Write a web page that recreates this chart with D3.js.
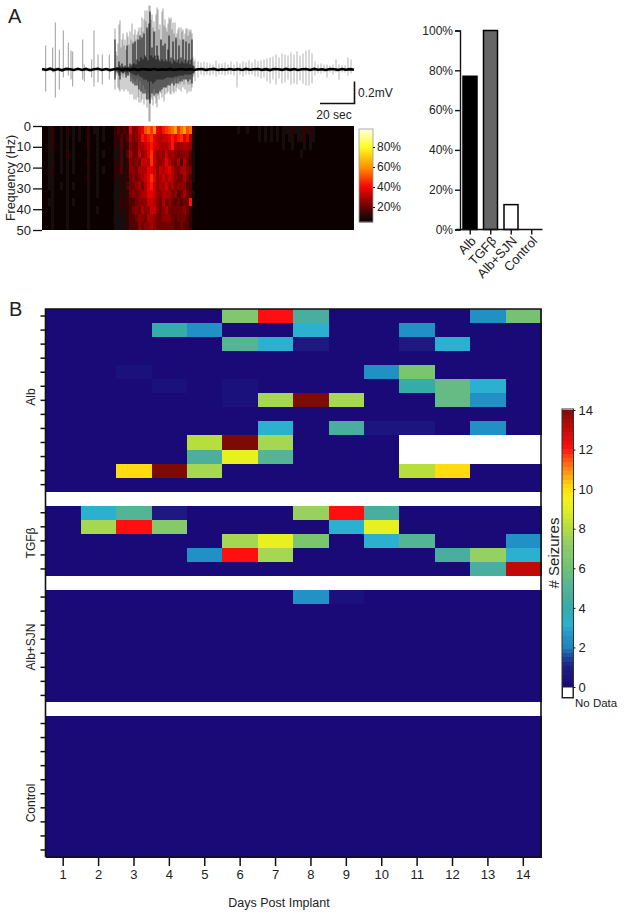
<!DOCTYPE html>
<html><head><meta charset="utf-8">
<script src="https://cdn.jsdelivr.net/npm/d3@7/dist/d3.min.js"></script>
<style>
html,body{margin:0;padding:0;background:#fff}
svg{display:block}
text{font-family:"Liberation Sans",Arial,sans-serif;fill:#222}
.axis path,.axis line{stroke:#111}
</style></head><body>
<svg id="c" width="624" height="916"></svg>
<script>
// ---------- Panel A: trace (amplitudes in 0.01 mV, positions in seconds*1.64) ----------
const sparsePos  =[45.7,52.7,55.3,59.3,63.3,68.3,71,72.7,82.7,84.3,91.7,94,98,102.3,109.3];
const sparseUp   =[24,22,47,20,39,27,19,18,30,5,10,39,15,15,15];
const sparseDown =[22,3,28,20,8,6,10,17,10,12,8,17,13,15,10];
const burstStart=115;
const burstUp=[41,18,14,26,45,49,22,30,36,24,30,20,37,33,25,38,30,46,28,35,40,30,35,38,42,30,42,52,38,50,59,48,59,40,64,64,50,55,42,48,38,55,62,60,40,45,30,58,61,44,50,42,38,46,52,50,52,40,47,36,47,30,36,40,42,30,42,38,40,30,36,41,41,34,40,38,40,36,12,8];
const burstDown=[20,6,4,18,20,22,6,20,8,22,5,20,6,22,6,25,8,25,10,30,12,30,10,28,33,12,33,30,16,35,20,30,38,24,52,52,28,30,36,20,28,34,38,26,30,20,24,28,18,32,25,18,24,22,15,24,25,12,22,24,10,22,18,9,20,15,22,10,18,15,20,10,24,15,22,15,22,18,8,6];
const coreUp=[30,2,1,2,8,4,2,6,3,2,4,2,24,3,2,6,3,5,26,6,28,5,10,30,8,34,12,32,10,36,14,12,42,9,46,58,14,22,12,38,14,10,24,14,10,8,30,10,24,8,26,10,8,20,34,8,12,6,28,10,8,32,7,10,24,6,12,8,30,6,10,28,6,9,26,5,10,30,4,3];
const coreDown=[10,2,1,3,6,10,2,3,4,3,2,8,3,6,2,3,12,4,14,5,16,6,16,5,20,7,22,8,24,10,24,10,30,12,30,34,12,24,14,26,12,24,10,24,10,22,10,20,10,18,9,18,8,16,8,16,8,14,8,16,7,14,7,14,6,12,6,12,6,10,5,10,5,12,5,10,5,14,4,3];
const rightStart=195;
const rightUp=[10,8,7,8,7,6,5,9,6,6,7,5,8,5,8,6,8,7,9,7,10,8,9,10,11,12,13,15,12,16,15,14,17,15,18,14,16,19,20,16,8,5,6,5,5,4,5,10,5,4,4,12,10];
const rightDown=[12,8,5,6,5,6,5,7,5,5,6,5,5,6,18,5,7,5,5,5,7,7,9,8,12,14,10,15,9,14,13,10,15,14,15,11,14,16,16,14,6,4,4,3,8,3,5,3,10,3,3,6,4];
const baseline=[0.5,-0.5,0.8,-0.6,0.4,-0.8,0.6,0.2,-0.5,0.7,-0.4,0.6,-0.7,0.3,0.8,-0.4,0.5,-0.6,0.2,0.7,-0.5,0.4,-0.3,0.6,-0.6,0.5,0.1,-0.4,0.7,-0.5,0.3,-0.2,0.6,-0.4,0.2,0.5,-0.3,0.4,-0.5,0.3,0.5,-0.4,0.2,0.6,-0.5,0.3,-0.3,0.5,-0.2,0.4,-0.5,0.6,-0.3,0.2,0.5,-0.4,0.3,-0.6,0.5,0.2,-0.4,0.6,-0.3,0.4,-0.5,0.2,0.5,-0.4,0.6,-0.2,0.3,-0.5,0.4,0.2,-0.4,0.5,-0.3,0.4,-0.2];

// ---------- Panel A: spectrogram, hex levels, one string per frequency band ----------
const specLeft=["112311213120210312212100","112311212120210311212100","012301212120110311211100","012201213120110211212100","012201212120110311211000","012301212120110211212100","012201112110110311211000","012201212120110211211100","011201112110010211211000","012201112120110211111000","011201112110010211211000","011201112110010211111000","011201112110010211111000"];
const specBurst=["3434395689cdbe98abcdfbdfcd3","334347567a9ab987889a9ab9a72","324336557789a987778a7677762","224247558679b86768676566642","324236565887b86679765747542","334236657779986878976577652","323235656789b96787876557542","223245567579a86778675666441","223235656779986677756457542","2233344566688765756545455a1","223234565766886567555556531","222234456657765566654555431","222234446566765555554454431"];
const specRight=["10101111110111211211121212121222322232321101101011111","10101011010111111111121212121212212231221001001010110","00101001000101101101111111111211211121210001000010010","00100001000100101001011010111111111211100001000010010","00100000000100100101010010110111101111110000000010010","00000001000000100100010010101101101110110000000010000","00000000000100000100010010100101101010110000000000010","00000001000000100100000010100101101010110000000000000","00000000000100000100010010100101001010010000000000000","00000000000000100000010000100101001010010000000000000","00000000000000000100000010000101001010010000000000000","00000000000000000000000010000100001010000000000000000","00000000000000000000000000000100001000010000000000000"];
const specFreqTicks=[0,10,20,30,40,50];
const hotStops=[0,8,20,40,60,80,100];
const hotColors=["#0d0505","#140707","#6a0303","#f60606","#ff9300","#ffff22","#ffffff"];
const hotTicks=[20,40,60,80];

// ---------- Panel A: bars ----------
const barCats=["Alb","TGFβ","Alb+SJN","Control"];
const barVals=[77,100,12.5,0];
const barFills=["#000000","#666666","#ffffff","#ffffff"];
const barTicks=[0,20,40,60,80,100];

// ---------- Panel B: seizures per day ----------
const days=[1,2,3,4,5,6,7,8,9,10,11,12,13,14];
const N=null;
const albRows=[
[0,0,0,0,0,6.5,12,4.5,0,0,0,0,2.4,6],
[0,0,0,4,2.4,0,0,3,0,0,2.4,0,0,0],
[0,0,0,0,0,5,3,0.7,0,0,0.7,3,0,0],
[0,0,0,0,0,0,0,0,0,0,0,0,0,0],
[0,0,0.3,0,0,0,0,0,0,2.4,6.3,0,0,0],
[0,0,0,0.3,0,0.3,0,0,0,0,4,5.5,3,0],
[0,0,0,0,0,0.3,7.6,14,7.6,0,0,5.5,2.4,0],
[0,0,0,0,0,0,0,0,0,0,0,0,0,0],
[0,0,0,0,0,0,3,0,4.5,0.5,0.5,0,2.4,0],
[0,0,0,0,8,14,7.6,0,0,0,N,N,N,N],
[0,0,0,0,4.6,9,5,0,0,0,N,N,N,N],
[0,0,10,14,7.6,0,0,0,0,0,8,10,0,0],
[0,0,0,0,0,0,0,0,0,0,0,0,0,0]];
const gapRow=[N,N,N,N,N,N,N,N,N,N,N,N,N,N];
const tgfRows=[
[0,3,5,0.7,0,0,0,7.3,12,4.5,0,0,0,0],
[0,7.6,12,6.7,0,0,0,0,3,9,0,0,0,0],
[0,0,0,0,0,7.6,9,6.3,0,3,5,0,0,2.4],
[0,0,0,0,2.4,12,7.6,0,0,0,0,4.5,7.2,3],
[0,0,0,0,0,0,0,0,0,0,0,0,4.5,13]];
const sjnRows=[
[0,0,0,0,0,0,0,2.5,0.3,0,0,0,0,0],
[0,0,0,0,0,0,0,0,0,0,0,0,0,0],
[0,0,0,0,0,0,0,0,0,0,0,0,0,0],
[0,0,0,0,0,0,0,0,0,0,0,0,0,0],
[0,0,0,0,0,0,0,0,0,0,0,0,0,0],
[0,0,0,0,0,0,0,0,0,0,0,0,0,0],
[0,0,0,0,0,0,0,0,0,0,0,0,0,0],
[0,0,0,0,0,0,0,0,0,0,0,0,0,0]];
const controlRows=[
[0,0,0,0,0,0,0,0,0,0,0,0,0,0],[0,0,0,0,0,0,0,0,0,0,0,0,0,0],
[0,0,0,0,0,0,0,0,0,0,0,0,0,0],[0,0,0,0,0,0,0,0,0,0,0,0,0,0],
[0,0,0,0,0,0,0,0,0,0,0,0,0,0],[0,0,0,0,0,0,0,0,0,0,0,0,0,0],
[0,0,0,0,0,0,0,0,0,0,0,0,0,0],[0,0,0,0,0,0,0,0,0,0,0,0,0,0],
[0,0,0,0,0,0,0,0,0,0,0,0,0,0],[0,0,0,0,0,0,0,0,0,0,0,0,0,0]];
const groupNames=["Alb","TGFβ","Alb+SJN","Control"];
const seizureStops=[0,1,1.5,2,2.5,3,4,4.5,5,6,7,7.5,8,9,9.5,10,11,12,13,14];
const seizureColors=["#190a78","#1f2085","#1f4fa0","#2088c0","#2092c6","#2bb0d0","#35aca8","#4aae9e","#54b595","#74c272","#8ccc68","#a0d558","#b8de3c","#e8f020","#f6f018","#ffdc10","#ff8010","#ff0f0f","#c00a0a","#7d0a05"];
const seizureTicks=[0,2,4,6,8,10,12,14];

// ---------- Drawing ----------
const svg=d3.select("#c");
const defs=svg.append("defs");
defs.append("filter").attr("id","soft").attr("x","-5%").attr("y","-5%").attr("width","110%").attr("height","110%")
  .append("feGaussianBlur").attr("stdDeviation",0.6);
defs.append("filter").attr("id","softer").attr("x","-5%").attr("y","-5%").attr("width","110%").attr("height","110%")
  .append("feGaussianBlur").attr("stdDeviation",0.3);
defs.append("clipPath").attr("id","specClip").append("rect").attr("x",42).attr("y",126).attr("width",312).attr("height",104);

const label=(x,y,t,size,anchor,rot)=>{
  const s=svg.append("text").attr("font-size",size).attr("text-anchor",anchor||"start").text(t);
  if(rot!==undefined) s.attr("transform",`translate(${x},${y}) rotate(${rot})`); else s.attr("x",x).attr("y",y);
  return s;
};
label(8,23,"A",20);
label(9,316,"B",20);

// --- trace
const tx=d3.scaleLinear().domain([42,354]).range([42,354]);
const ty=d3.scaleLinear().domain([70,-55]).range([-0.5,124.5]);
const trace=svg.append("g").attr("filter","url(#softer)");
function spikes(data,color,op,w){
  trace.append("g").selectAll("line").data(data).join("line")
   .attr("x1",d=>tx(d.p)).attr("x2",d=>tx(d.p))
   .attr("y1",d=>ty(d.u)).attr("y2",d=>ty(-d.d))
   .attr("stroke",color).attr("stroke-opacity",op).attr("stroke-width",w);
}
spikes(sparsePos.map((p,i)=>({p,u:sparseUp[i],d:sparseDown[i]})),"#555",0.65,0.9);
spikes(rightUp.map((u,i)=>({p:rightStart+i*3,u,d:rightDown[i]})),"#555",0.5,0.9);
spikes(burstUp.map((u,i)=>({p:burstStart+i,u,d:burstDown[i]})),"#555",0.62,0.9);
spikes(coreUp.map((u,i)=>({p:burstStart+i,u,d:coreDown[i]})),"#000",0.78,1.2);
const line=d3.line().x((d,i)=>tx(42+i*4)).y(d=>ty(d)).curve(d3.curveLinear);
trace.append("path").attr("d",line(baseline)).attr("fill","none").attr("stroke","#000").attr("stroke-width",2.6);

// scale bars
svg.append("path").attr("d","M320,103.5H354.5V81.5").attr("fill","none").attr("stroke","#111").attr("stroke-width",1.6);
label(358,97,"0.2mV",12);
label(334,119,"20 sec",12,"middle");

// --- spectrogram
const hot=d3.scaleLinear().domain(hotStops).range(hotColors).clamp(true);
const specRows=specLeft.map((r,i)=>r+specBurst[i]+specRight[i]);
const specX=d3.scaleBand().domain(d3.range(specRows[0].length)).range([42,354]);
const specY=d3.scaleBand().domain(d3.range(specRows.length)).range([126,230]);
const levelToPct=4.2;
const spec=svg.append("g").attr("clip-path","url(#specClip)");
spec.append("rect").attr("x",42).attr("y",126).attr("width",312).attr("height",104).attr("fill",hot(0));
spec.append("g").attr("filter","url(#soft)").selectAll("g").data(specRows).join("g").each(function(r,ri){
  d3.select(this).selectAll("rect").data(r.split("")).join("rect")
    .attr("x",(c,ci)=>specX(ci)).attr("y",specY(ri))
    .attr("width",specX.bandwidth()+0.3).attr("height",specY.bandwidth()+0.3)
    .attr("fill",c=>hot(parseInt(c,16)*levelToPct));
});
const fy=d3.scaleLinear().domain([0,50]).range([126,230]);
const faxis=svg.append("g").attr("class","axis").attr("transform","translate(42,0)")
  .call(d3.axisLeft(fy).tickValues(specFreqTicks).tickSize(9).tickPadding(2));
faxis.select(".domain").remove();
faxis.selectAll("line").attr("stroke-width",1.3);
faxis.selectAll("text").attr("font-size",13);
label(15,178,"Frequency (Hz)",12.5,"middle",-90);

// hot colorbar
const hy=d3.scaleLinear().domain([5,98]).range([222,129]);
svg.append("g").selectAll("rect").data(d3.range(5,98)).join("rect")
  .attr("x",359).attr("width",14).attr("y",d=>hy(d+1)).attr("height",1.4).attr("fill",d=>hot(d));
svg.append("rect").attr("x",359).attr("y",129).attr("width",14).attr("height",93).attr("fill","none").attr("stroke","#999").attr("stroke-width",0.8);
const haxis=svg.append("g").attr("class","axis").attr("transform","translate(373,0)")
  .call(d3.axisRight(hy).tickValues(hotTicks).tickSize(2).tickPadding(2).tickFormat(d=>d+"%"));
haxis.select(".domain").remove();
haxis.selectAll("text").attr("font-size",12);

// --- bars
const bx=d3.scaleBand().domain(barCats).range([460,542]);
const by=d3.scaleLinear().domain([0,100]).range([229.5,30.5]);
svg.append("g").selectAll("rect").data(barCats).join("rect")
  .attr("x",d=>bx(d)+3).attr("width",bx.bandwidth()-6.5)
  .attr("y",(d,i)=>by(barVals[i])).attr("height",(d,i)=>by(0)-by(barVals[i]))
  .attr("fill",(d,i)=>barFills[i]).attr("stroke",(d,i)=>barVals[i]>0?"#000":"none").attr("stroke-width",1.5);
const byAxis=svg.append("g").attr("class","axis").attr("transform","translate(460,0)")
  .call(d3.axisLeft(by).tickValues(barTicks).tickSize(5).tickPadding(2).tickFormat(d=>d+"%"));
byAxis.selectAll("path,line").attr("stroke-width",1.4);
byAxis.selectAll("text").attr("font-size",12);
const bxAxis=svg.append("g").attr("class","axis").attr("transform","translate(0,229.5)")
  .call(d3.axisBottom(bx).tickSizeOuter(0).tickSize(5).tickPadding(2));
bxAxis.select(".domain").attr("d","M456,0H542.5");
bxAxis.selectAll("path,line").attr("stroke-width",1.4);
bxAxis.selectAll("text").attr("font-size",13).attr("text-anchor","end").attr("x",0).attr("y",0).attr("dy","0.35em")
  .attr("transform","translate(3,9) rotate(-47)");

// --- heatmap
const rows=[...albRows,gapRow,...tgfRows,gapRow,...sjnRows,gapRow,...controlRows];
const hmX=d3.scaleBand().domain(days).range([45.5,541]);
const hmY=d3.scaleBand().domain(d3.range(rows.length)).range([309,857]);
const seizure=d3.scaleLinear().domain(seizureStops).range(seizureColors).clamp(true);
const hm=svg.append("g").attr("shape-rendering","crispEdges");
hm.selectAll("g").data(rows).join("g").each(function(r,ri){
  d3.select(this).selectAll("rect").data(r).join("rect")
   .attr("x",(v,ci)=>hmX(days[ci])).attr("y",hmY(ri))
   .attr("width",hmX.bandwidth()+0.5).attr("height",hmY.bandwidth()+0.5)
   .attr("fill",v=>v===null?"#fff":seizure(v));
});
svg.append("path").attr("d","M45.5,857V309H541V857H45.5").attr("fill","none").attr("stroke","#111").attr("stroke-width",1.6);
const rowTicks=d3.range(rows.length).filter(i=>rows[i]!==gapRow);
const hmYAxis=svg.append("g").attr("class","axis").attr("transform","translate(45.5,0)")
  .call(d3.axisLeft(hmY).tickValues(rowTicks).tickSize(5).tickFormat(""));
hmYAxis.select(".domain").remove();
hmYAxis.selectAll("line").attr("stroke-width",1.5);
const hmXAxis=svg.append("g").attr("class","axis").attr("transform","translate(0,857)")
  .call(d3.axisBottom(hmX).tickSize(9).tickPadding(4));
hmXAxis.select(".domain").remove();
hmXAxis.selectAll("line").attr("stroke-width",1.5);
hmXAxis.selectAll("text").attr("font-size",13);
const groupCenters=[397,543,647,803];
groupNames.forEach((g,i)=>label(35,groupCenters[i],g,12,"middle",-90));
label(279,907,"Days Post Implant",12.5,"middle");

// seizure colorbar
const cy=d3.scaleLinear().domain([0,14]).range([687,410]);
const cbLevels=d3.range(0,14,14/64);
svg.append("g").attr("shape-rendering","crispEdges").selectAll("rect").data(cbLevels).join("rect")
  .attr("x",562).attr("width",11.5)
  .attr("y",d=>cy(d+14/64)).attr("height",cy(0)-cy(14/64)+0.5)
  .attr("fill",d=>seizure(d));
svg.append("rect").attr("x",562).attr("y",409).attr("width",11.5).attr("height",289).attr("fill","none").attr("stroke","#333").attr("stroke-width",1);
svg.append("rect").attr("x",562.5).attr("y",687).attr("width",10.5).attr("height",10.5).attr("fill","#fff").attr("stroke","#222").attr("stroke-width",1);
const caxis=svg.append("g").attr("class","axis").attr("transform","translate(573.5,0)")
  .call(d3.axisRight(cy).tickValues(seizureTicks).tickSize(2).tickPadding(3));
caxis.select(".domain").remove();
caxis.selectAll("text").attr("font-size",13);
label(575,707,"No Data",11.5);
label(559,553,"# Seizures",15,"middle",-90);
</script>
</body></html>
